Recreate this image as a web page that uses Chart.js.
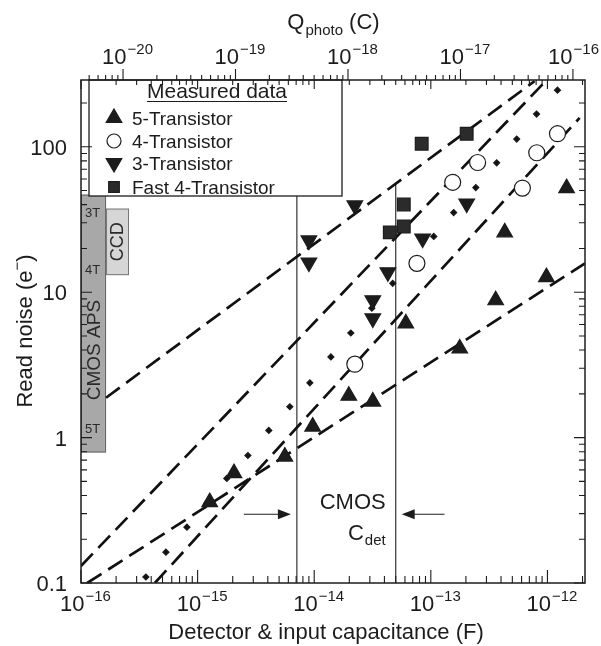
<!DOCTYPE html>
<html>
<head>
<meta charset="utf-8">
<script src="https://cdn.jsdelivr.net/npm/chart.js@4.4.0/dist/chart.umd.min.js"></script>
<style>
  html, body { margin: 0; padding: 0; background: #fff; }
</style>
</head>
<body>
<canvas id="chart" width="601" height="646"></canvas>
<script>
// read noise (e-) against detector & input capacitance (F)
const capTickExp = [-16, -15, -14, -13, -12];
const qTickExp = [-20, -19, -18, -17, -16];
const noiseTickValues = [0.1, 1, 10, 100];
const noiseTickLabels = ["0.1", "1", "10", "100"];

const fiveTransistor = [
    [1.27e-15, 0.36], [2.05e-15, 0.57], [5.6e-15, 0.74], [9.7e-15, 1.19],
    [1.98e-14, 1.94], [3.18e-14, 1.77], [6.1e-14, 6.1], [1.77e-13, 4.1],
    [3.6e-13, 8.8], [4.3e-13, 25.8], [9.8e-13, 12.7], [1.46e-12, 52]
];
const fourTransistor = [
    [2.23e-14, 3.2], [7.6e-14, 15.8], [1.54e-13, 57], [2.52e-13, 78],
    [6.1e-13, 52], [8.1e-13, 91], [1.22e-12, 123]
];
const threeTransistor = [
    [2.23e-14, 39.5], [9.0e-15, 22.7], [9.0e-15, 16.0], [4.28e-14, 13.7],
    [3.18e-14, 8.8], [3.18e-14, 6.6], [8.5e-14, 23.4], [2.03e-13, 40.7]
];
const fastFourTransistor = [
    [4.45e-14, 25.8], [5.86e-14, 40.1], [5.86e-14, 28.3], [8.35e-14, 105], [2.03e-13, 123]
];
const modelDots = [
    [3.6e-16, 0.11], [5.35e-16, 0.163], [8.1e-16, 0.242], [1.2e-15, 0.353],
    [1.78e-15, 0.524], [2.7e-15, 0.753], [4.08e-15, 1.12], [6.18e-15, 1.63],
    [9.17e-15, 2.38], [1.39e-14, 3.59], [2.06e-14, 5.24], [3.12e-14, 7.76],
    [4.71e-14, 11.5], [7.0e-14, 16.6], [1.06e-13, 24.2], [1.57e-13, 35.3],
    [2.43e-13, 52.4], [3.67e-13, 77.6], [5.45e-13, 113], [8.07e-13, 168],
    [1.22e-12, 245]
];
const modelA = [[1.64e-16, 1.88], [7.76e-13, 283]];
const modelB = [[1e-16, 0.131], [9.66e-13, 283]];
const modelC = [[4.3e-16, 0.1], [1.89e-12, 158]];
const modelD = [[1.13e-16, 0.1], [2.1e-12, 15.8]];

const cdetBounds = [7.1e-15, 5.0e-14];
const cdetTop = 55.8;
const arrowNoise = 0.297;
const arrowTails = [2.49e-15, 1.31e-13];

// sensor bands on the left edge
const apsBandC = [1e-16, 1.64e-16];
const apsRange = [0.79, 46.9];
const apsLevels = [["3T", 34.8], ["4T", 14.2], ["5T", 1.13]];
const apsLabelNoise = 4.0;
const ccdBandC = [1.64e-16, 2.58e-16];
const ccdRange = [13.1, 37.6];

const FONT = '"Liberation Sans", Arial, Helvetica, sans-serif';
const INK = "#1c1c1c";

const xy = arr => arr.map(p => ({ x: p[0], y: p[1] }));

function logTicks(min, max) {
    const out = [];
    for (let e = Math.floor(Math.log10(min)); e <= Math.ceil(Math.log10(max)); e++) {
        for (let m = 1; m <= 9; m++) {
            const v = m * Math.pow(10, e);
            if (v >= min * 0.999 && v <= max * 1.001) out.push({ v: v, major: m === 1 });
        }
    }
    return out;
}

function drawPow(ctx, cx, baseline, exp, maxRight) {
    const sup = "\u2212" + Math.abs(exp);
    ctx.font = "22px " + FONT;
    const wb = ctx.measureText("10").width;
    ctx.font = "15px " + FONT;
    const ws = ctx.measureText(sup).width;
    let x0 = cx - (wb + ws) / 2;
    if (maxRight && x0 + wb + ws + 1 > maxRight) x0 = maxRight - wb - ws - 1;
    ctx.textAlign = "left";
    ctx.textBaseline = "alphabetic";
    ctx.font = "22px " + FONT;
    ctx.fillText("10", x0, baseline);
    ctx.font = "15px " + FONT;
    ctx.fillText(sup, x0 + wb + 1, baseline - 10);
}

function arrow(ctx, x0, x1, y) {
    const dir = Math.sign(x1 - x0);
    ctx.beginPath();
    ctx.moveTo(x0, y);
    ctx.lineTo(x1 - dir * 10, y);
    ctx.stroke();
    ctx.beginPath();
    ctx.moveTo(x1, y);
    ctx.lineTo(x1 - dir * 13, y - 5);
    ctx.lineTo(x1 - dir * 13, y + 5);
    ctx.closePath();
    ctx.fill();
}

const paperPlugin = {
    id: "paper",
    beforeDraw(chart) {
        const ctx = chart.ctx;
        ctx.save();
        ctx.fillStyle = "#fff";
        ctx.fillRect(0, 0, chart.width, chart.height);
        ctx.restore();
    },
    beforeDatasetsDraw(chart) {
        const ctx = chart.ctx, xs = chart.scales.x, ys = chart.scales.y;
        ctx.save();
        // CMOS APS band
        let l = xs.getPixelForValue(apsBandC[0]), r = xs.getPixelForValue(apsBandC[1]);
        let t = ys.getPixelForValue(apsRange[1]), b = ys.getPixelForValue(apsRange[0]);
        ctx.fillStyle = "#a8a8a8";
        ctx.strokeStyle = "#666";
        ctx.lineWidth = 1;
        ctx.fillRect(l, t, r - l, b - t);
        ctx.strokeRect(l + 0.5, t + 0.5, r - l - 1, b - t - 1);
        ctx.fillStyle = "#2a2a2a";
        ctx.font = "13px " + FONT;
        ctx.textAlign = "left";
        ctx.textBaseline = "middle";
        apsLevels.forEach(a => ctx.fillText(a[0], l + 4, ys.getPixelForValue(a[1])));
        ctx.save();
        ctx.translate((l + r) / 2 + 1, ys.getPixelForValue(apsLabelNoise));
        ctx.rotate(-Math.PI / 2);
        ctx.font = "19px " + FONT;
        ctx.textAlign = "center";
        ctx.fillText("CMOS APS", 0, 0);
        ctx.restore();
        // CCD band
        l = xs.getPixelForValue(ccdBandC[0]); r = xs.getPixelForValue(ccdBandC[1]);
        t = ys.getPixelForValue(ccdRange[1]); b = ys.getPixelForValue(ccdRange[0]);
        ctx.fillStyle = "#d6d6d6";
        ctx.strokeStyle = "#777";
        ctx.fillRect(l, t, r - l, b - t);
        ctx.strokeRect(l + 0.5, t + 0.5, r - l - 1, b - t - 1);
        ctx.save();
        ctx.translate((l + r) / 2 + 1, (t + b) / 2);
        ctx.rotate(-Math.PI / 2);
        ctx.fillStyle = "#2a2a2a";
        ctx.font = "18px " + FONT;
        ctx.textAlign = "center";
        ctx.textBaseline = "middle";
        ctx.fillText("CCD", 0, 0);
        ctx.restore();
        ctx.restore();
    },
    afterDatasetsDraw(chart) {
        const ctx = chart.ctx, a = chart.chartArea;
        const xs = chart.scales.x, ys = chart.scales.y, qs = chart.scales.q;
        ctx.save();
        ctx.strokeStyle = INK;
        ctx.fillStyle = INK;

        // legend box
        const lg = { l: 89, t: a.top, r: 342, b: 196 };
        ctx.fillStyle = "#fff";
        ctx.fillRect(lg.l, lg.t, lg.r - lg.l, lg.b - lg.t);
        ctx.lineWidth = 1.3;
        ctx.strokeRect(lg.l, lg.t, lg.r - lg.l, lg.b - lg.t);
        ctx.fillStyle = INK;
        ctx.font = "21px " + FONT;
        ctx.textAlign = "center";
        ctx.textBaseline = "alphabetic";
        ctx.fillText("Measured data", 217, 98);
        const mw = ctx.measureText("Measured data").width;
        ctx.lineWidth = 1.2;
        ctx.beginPath();
        ctx.moveTo(217 - mw / 2, 101.5);
        ctx.lineTo(217 + mw / 2, 101.5);
        ctx.stroke();
        const rows = [
            ["5-Transistor", 125, { pointStyle: "triangle", radius: 9, rotation: 0, borderWidth: 1 }, INK],
            ["4-Transistor", 148, { pointStyle: "circle", radius: 7, rotation: 0, borderWidth: 1.2 }, "#fff"],
            ["3-Transistor", 170, { pointStyle: "triangle", radius: 9, rotation: 180, borderWidth: 1 }, INK],
            ["Fast 4-Transistor", 194, { pointStyle: "rect", radius: 7.5, rotation: 0, borderWidth: 1 }, "#2b2b2b"]
        ];
        rows.forEach(rw => {
            ctx.fillStyle = rw[3];
            ctx.strokeStyle = INK;
            Chart.helpers.drawPoint(ctx, rw[2], 114, rw[1] - 7);
            ctx.fillStyle = INK;
            ctx.font = "19px " + FONT;
            ctx.textAlign = "left";
            ctx.fillText(rw[0], 132, rw[1]);
        });

        // C_det arrows and text
        const ay = ys.getPixelForValue(arrowNoise);
        const cL = xs.getPixelForValue(cdetBounds[0]), cR = xs.getPixelForValue(cdetBounds[1]);
        ctx.lineWidth = 1.2;
        arrow(ctx, xs.getPixelForValue(arrowTails[0]), cL - 6, ay);
        arrow(ctx, xs.getPixelForValue(arrowTails[1]), cR + 6, ay);
        ctx.font = "22px " + FONT;
        ctx.textAlign = "right";
        ctx.fillText("CMOS", cR - 10, ay - 5);
        ctx.font = "15px " + FONT;
        const wd = ctx.measureText("det").width;
        ctx.fillText("det", cR - 10, ay + 31);
        ctx.font = "22px " + FONT;
        ctx.fillText("C", cR - 10 - wd - 1, ay + 26);

        // frame
        ctx.lineWidth = 1.5;
        ctx.strokeStyle = INK;
        ctx.strokeRect(a.left, a.top, a.right - a.left, a.bottom - a.top);

        // ticks
        ctx.lineWidth = 1.1;
        ctx.beginPath();
        logTicks(xs.min, xs.max).forEach(tk => {
            const px = xs.getPixelForValue(tk.v);
            ctx.moveTo(px, a.bottom); ctx.lineTo(px, a.bottom - (tk.major ? 13 : 7));
            ctx.moveTo(px, a.top); ctx.lineTo(px, a.top + (tk.major ? 9 : 5));
        });
        logTicks(qs.min, qs.max).forEach(tk => {
            const px = qs.getPixelForValue(tk.v);
            ctx.moveTo(px, a.top); ctx.lineTo(px, a.top - (tk.major ? 11 : 5));
        });
        logTicks(ys.min, ys.max).forEach(tk => {
            const py = ys.getPixelForValue(tk.v);
            ctx.moveTo(a.left, py); ctx.lineTo(a.left + (tk.major ? 11 : 6), py);
            ctx.moveTo(a.right, py); ctx.lineTo(a.right - (tk.major ? 11 : 6), py);
        });
        ctx.stroke();

        // tick labels
        ctx.fillStyle = INK;
        capTickExp.forEach(e => drawPow(ctx, xs.getPixelForValue(Math.pow(10, e)) + 4, a.bottom + 28, e));
        qTickExp.forEach(e => drawPow(ctx, qs.getPixelForValue(Math.pow(10, e)) + 4, a.top - 16, e, chart.width - 2));
        ctx.font = "22px " + FONT;
        ctx.textAlign = "right";
        ctx.textBaseline = "alphabetic";
        noiseTickValues.forEach((v, i) => {
            ctx.fillText(noiseTickLabels[i], a.left - 14, ys.getPixelForValue(v) + 8);
        });

        // axis titles
        ctx.textAlign = "left";
        ctx.font = "22px " + FONT;
        const w1 = ctx.measureText("Detector & input capacitance (F)").width;
        ctx.fillText("Detector & input capacitance (F)", 326 - w1 / 2, 639);

        ctx.font = "22px " + FONT;
        const wq = ctx.measureText("Q").width, wc = ctx.measureText(" (C)").width;
        ctx.font = "15px " + FONT;
        const wp = ctx.measureText("photo").width;
        let x0 = (a.left + a.right) / 2 - (wq + wp + wc) / 2;
        ctx.font = "22px " + FONT;
        ctx.fillText("Q", x0, 29);
        ctx.font = "15px " + FONT;
        ctx.fillText("photo", x0 + wq + 1, 35);
        ctx.font = "22px " + FONT;
        ctx.fillText(" (C)", x0 + wq + wp + 1, 29);

        ctx.save();
        ctx.translate(32, 331);
        ctx.rotate(-Math.PI / 2);
        ctx.font = "22px " + FONT;
        const wr = ctx.measureText("Read noise (e").width;
        const wpar = ctx.measureText(")").width;
        ctx.font = "15px " + FONT;
        const wm = ctx.measureText("\u2212").width;
        x0 = -(wr + wm + wpar) / 2;
        ctx.font = "22px " + FONT;
        ctx.fillText("Read noise (e", x0, 0);
        ctx.font = "15px " + FONT;
        ctx.fillText("\u2212", x0 + wr, -10);
        ctx.font = "22px " + FONT;
        ctx.fillText(")", x0 + wr + wm, 0);
        ctx.restore();

        ctx.restore();
    }
};

function markerSet(label, data, style, radius, rotation, fill) {
    return {
        label: label, data: xy(data), showLine: false,
        pointStyle: style, pointRadius: radius, pointRotation: rotation,
        pointBackgroundColor: fill, pointBorderColor: INK, pointBorderWidth: 1.2,
        backgroundColor: fill, borderColor: INK
    };
}

function lineSet(label, data, width, dash, color) {
    return {
        label: label, data: xy(data), showLine: true, pointRadius: 0,
        borderColor: color, borderWidth: width, borderDash: dash, fill: false, tension: 0
    };
}

const ctx = document.getElementById("chart").getContext("2d");

new Chart(ctx, {
    type: "scatter",
    data: {
        datasets: [
            markerSet("4-Transistor", fourTransistor, "circle", 8, 0, "#fff"),
            markerSet("5-Transistor", fiveTransistor, "triangle", 9, 0, INK),
            markerSet("3-Transistor", threeTransistor, "triangle", 9, 180, INK),
            markerSet("Fast 4-Transistor", fastFourTransistor, "rect", 9, 0, "#2b2b2b"),
            markerSet("model", modelDots, "rectRot", 3, 0, "#111"),
            lineSet("line A", modelA, 2.7, [17, 8], "#111"),
            lineSet("line B", modelB, 2.7, [17, 8], "#111"),
            lineSet("line C", modelC, 2.7, [17, 8], "#111"),
            lineSet("line D", modelD, 2.7, [17, 8], "#111"),
            lineSet("Cdet low", [[cdetBounds[0], 0.1], [cdetBounds[0], cdetTop]], 1.2, [], "#333"),
            lineSet("Cdet high", [[cdetBounds[1], 0.1], [cdetBounds[1], cdetTop]], 1.2, [], "#333")
        ]
    },
    options: {
        responsive: false,
        animation: false,
        devicePixelRatio: 1,
        layout: { padding: { left: 81, right: 16, top: 80, bottom: 63 } },
        plugins: { legend: { display: false }, tooltip: { enabled: false } },
        scales: {
            x: { type: "logarithmic", min: 1e-16, max: 2.1e-12, display: false },
            y: { type: "logarithmic", min: 0.1, max: 288, display: false },
            q: { type: "logarithmic", axis: "x", position: "top", min: 4.23e-21, max: 1.28e-16, display: false }
        }
    },
    plugins: [paperPlugin]
});
</script>
</body>
</html>
